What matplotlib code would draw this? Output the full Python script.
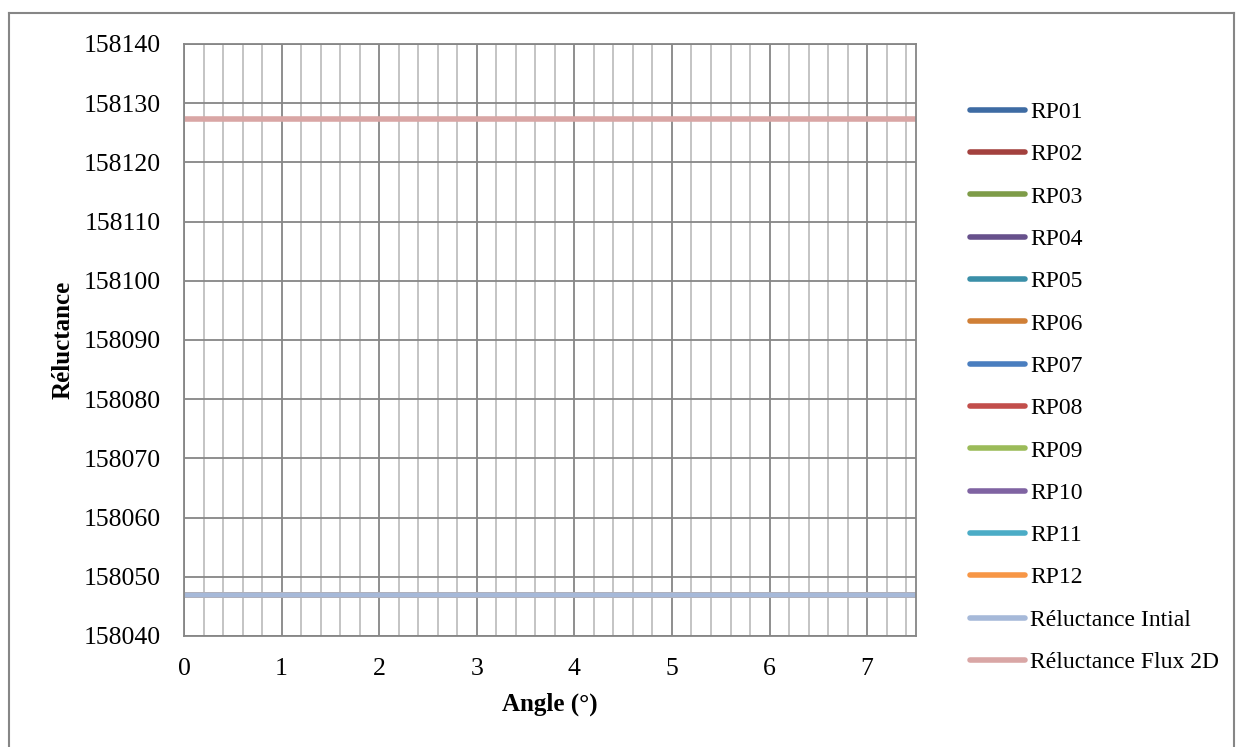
import matplotlib.pyplot as plt
import numpy as np
from matplotlib.ticker import MultipleLocator

plt.rcParams['font.family'] = ['Liberation Serif', 'DejaVu Serif']

angles = [0.0, 0.5, 1.0, 1.5, 2.0, 2.5, 3.0, 3.5, 4.0, 4.5, 5.0, 5.5, 6.0, 6.5, 7.0, 7.5]
series_names = ['RP01', 'RP02', 'RP03', 'RP04', 'RP05', 'RP06', 'RP07', 'RP08',
                'RP09', 'RP10', 'RP11', 'RP12', 'Réluctance Intial', 'Réluctance Flux 2D']
series_levels = [158047.0] * 12 + [158046.95, 158127.3]
colors = ['#3E6BA3', '#A3413E', '#7E9C48', '#67518C', '#3A8FA8', '#D07F36',
          '#4A7EBF', '#C24E4B', '#9BBB59', '#7F63A2', '#4BACC6', '#F79646',
          '#A6B9D9', '#D9A6A5']

fig = plt.figure(figsize=(12.45, 7.47), dpi=100)
ax = fig.add_axes([0.1478, 0.1486, 0.5879, 0.7925])

for name, level, c in zip(series_names, series_levels, colors):
    ax.plot(angles, [level] * len(angles), color=c, lw=4.0, solid_capstyle='round', label=name)

ax.set_xlim(0, 7.5)
ax.set_ylim(158040, 158140)
ax.xaxis.set_major_locator(MultipleLocator(1))
ax.xaxis.set_minor_locator(MultipleLocator(0.2))
ax.yaxis.set_major_locator(MultipleLocator(10))
ax.grid(which='major', axis='both', color='#868686', lw=1.3)
ax.grid(which='minor', axis='x', color='#BFBFBF', lw=1.3)
ax.set_axisbelow(True)
ax.tick_params(which='both', length=0, labelsize=18.5)
ax.tick_params(axis='x', pad=16)
ax.tick_params(axis='y', pad=17)
for s in ax.spines.values():
    s.set_color('#868686')
    s.set_linewidth(1.3)

ax.set_xlabel('Angle (°)', fontsize=18, fontweight='bold', labelpad=9)
ax.set_ylabel('Réluctance', fontsize=18, fontweight='bold', labelpad=6)

leg = ax.legend(loc='upper left', bbox_to_anchor=(0.779, 0.864), bbox_transform=fig.transFigure,
                frameon=False, fontsize=17, handlelength=2.35, handletextpad=0.2,
                labelspacing=0.88, borderpad=0, borderaxespad=0)

# chart border
fig.add_artist(plt.Line2D([0.0075, 0.0075], [0.0, 0.983], color='#868686', lw=1.5, transform=fig.transFigure))
fig.add_artist(plt.Line2D([0.0075, 0.991], [0.983, 0.983], color='#868686', lw=1.5, transform=fig.transFigure))
fig.add_artist(plt.Line2D([0.991, 0.991], [0.0, 0.983], color='#868686', lw=1.5, transform=fig.transFigure))

fig.savefig('out.png', dpi=100)
